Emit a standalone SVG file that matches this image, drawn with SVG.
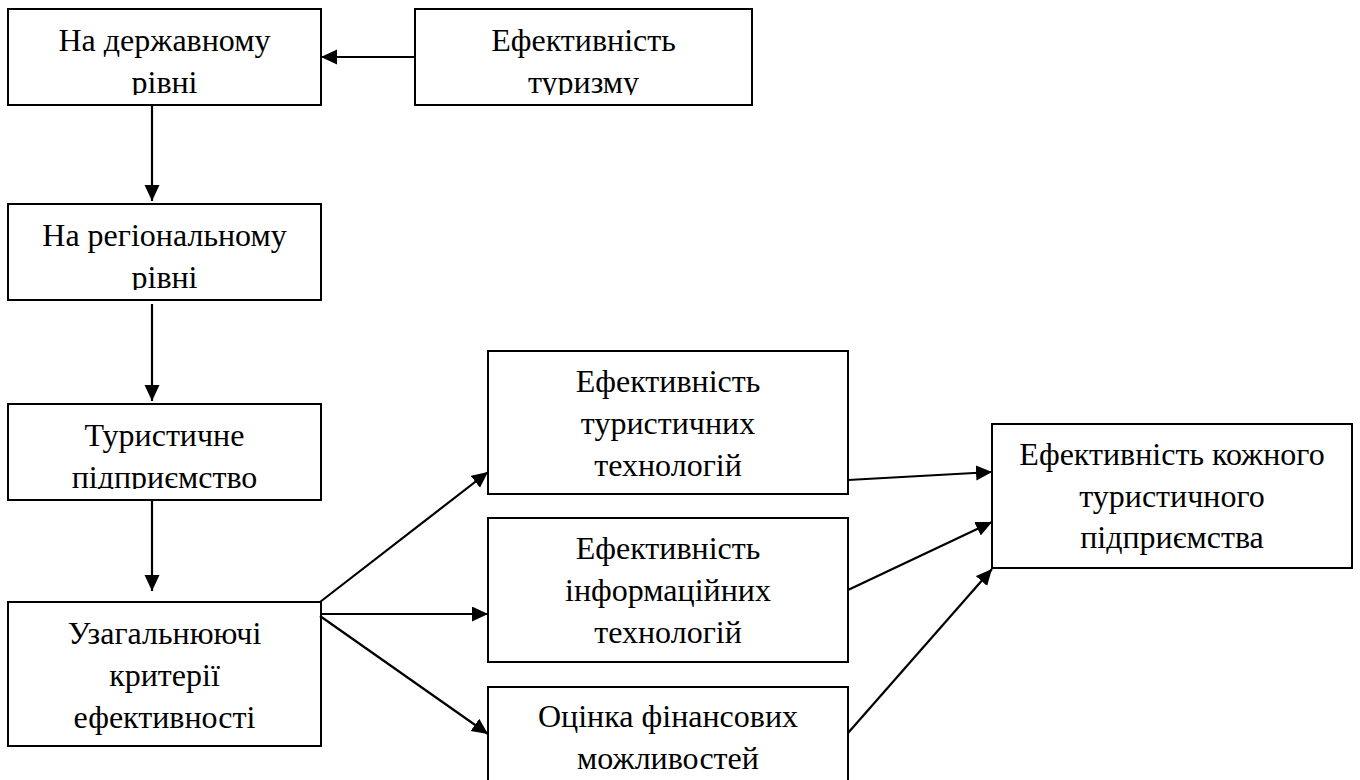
<svg xmlns="http://www.w3.org/2000/svg" width="1360" height="780" viewBox="0 0 1360 780">
<style>
.box{fill:#fff;stroke:#000;stroke-width:2}
.t{font-family:'Liberation Serif','Times New Roman',serif;font-size:32px;fill:#000;text-anchor:middle}
.c{stroke:#000;stroke-width:2.2;fill:none;marker-end:url(#ah)}
</style>
<defs>
<marker id="ah" markerUnits="userSpaceOnUse" markerWidth="17" markerHeight="16" refX="16" refY="7.5" orient="auto">
<path d="M0,0 L16,7.5 L0,15 z" fill="#000"/>
</marker>
<clipPath id="cp1"><rect x="0" y="0" width="330" height="95"/></clipPath>
<clipPath id="cp2"><rect x="400" y="0" width="360" height="95"/></clipPath>
<clipPath id="cp3"><rect x="0" y="200" width="330" height="90"/></clipPath>
<clipPath id="cp4"><rect x="0" y="400" width="330" height="89"/></clipPath>
</defs>
<g id="n1">
<rect class="box" x="8" y="9" width="313" height="96"/>
<text class="t" clip-path="url(#cp1)"><tspan x="164.5" y="51">На державному</tspan><tspan x="164.5" y="93">рівні</tspan></text>
</g>
<g id="n2">
<rect class="box" x="415" y="9" width="337" height="96"/>
<text class="t" clip-path="url(#cp2)"><tspan x="583.5" y="51">Ефективність</tspan><tspan x="583.5" y="93">туризму</tspan></text>
</g>
<g id="n3">
<rect class="box" x="8" y="204" width="313" height="96"/>
<text class="t" clip-path="url(#cp3)"><tspan x="164.5" y="246">На регіональному</tspan><tspan x="164.5" y="288">рівні</tspan></text>
</g>
<g id="n4">
<rect class="box" x="8" y="404" width="313" height="96"/>
<text class="t" clip-path="url(#cp4)"><tspan x="164.5" y="446">Туристичне</tspan><tspan x="164.5" y="488">підприємство</tspan></text>
</g>
<g id="n5">
<rect class="box" x="8" y="602" width="313" height="144"/>
<text class="t"><tspan x="164.5" y="644">Узагальнюючі</tspan><tspan x="164.5" y="686">критерії</tspan><tspan x="164.5" y="728">ефективності</tspan></text>
</g>
<g id="n6">
<rect class="box" x="488" y="351" width="360" height="143"/>
<text class="t"><tspan x="668" y="392">Ефективність</tspan><tspan x="668" y="434">туристичних</tspan><tspan x="668" y="476">технологій</tspan></text>
</g>
<g id="n7">
<rect class="box" x="488" y="518" width="360" height="144"/>
<text class="t"><tspan x="668" y="559">Ефективність</tspan><tspan x="668" y="601">інформаційних</tspan><tspan x="668" y="643">технологій</tspan></text>
</g>
<g id="n8">
<rect class="box" x="488" y="687" width="360" height="130"/>
<text class="t"><tspan x="668" y="727">Оцінка фінансових</tspan><tspan x="668" y="769">можливостей</tspan></text>
</g>
<g id="n9">
<rect class="box" x="992" y="424" width="360" height="144"/>
<text class="t"><tspan x="1172" y="465">Ефективність кожного</tspan><tspan x="1172" y="507">туристичного</tspan><tspan x="1172" y="548">підприємства</tspan></text>
</g>
<g id="connectors">
<line class="c" x1="415" y1="57" x2="321" y2="57"/>
<line class="c" x1="152" y1="105" x2="152" y2="201"/>
<line class="c" x1="152" y1="304" x2="152" y2="401"/>
<line class="c" x1="152" y1="500" x2="152" y2="591"/>
<line class="c" x1="320" y1="602" x2="488" y2="472"/>
<line class="c" x1="321" y1="614" x2="488" y2="614"/>
<line class="c" x1="320" y1="616" x2="488" y2="734"/>
<line class="c" x1="848" y1="480" x2="992" y2="472"/>
<line class="c" x1="848" y1="590" x2="992" y2="522"/>
<line class="c" x1="848" y1="733" x2="992" y2="569"/>
</g>
</svg>
